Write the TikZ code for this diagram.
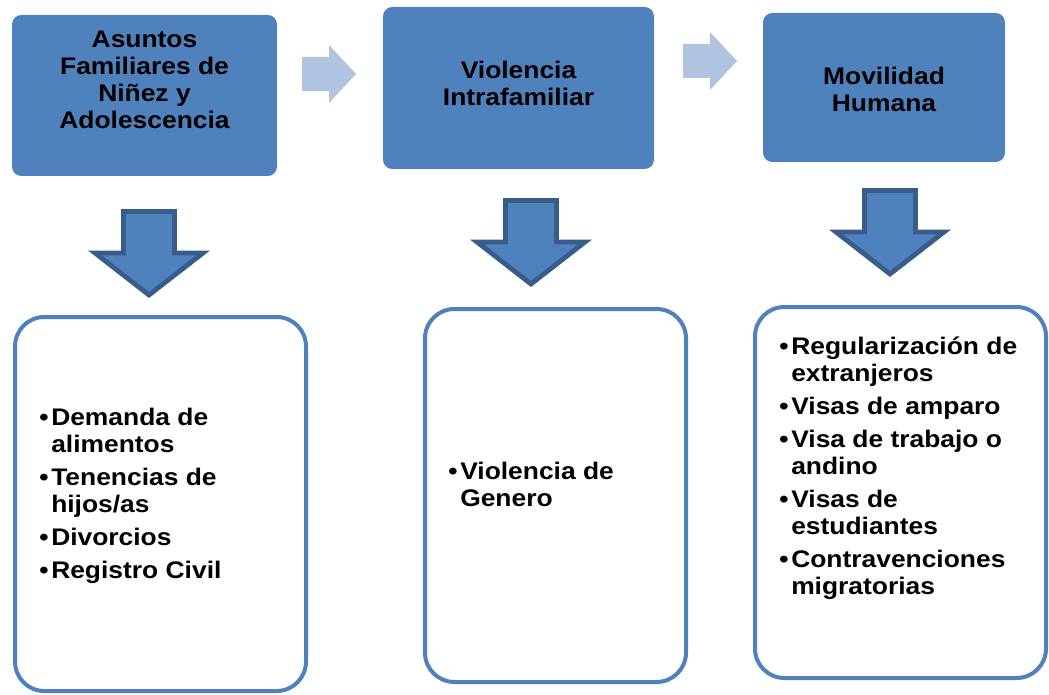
\documentclass[tikz,border=0pt]{standalone}
\usepackage{fontspec}
\setmainfont[FakeStretch=1.1]{Liberation Sans}
\definecolor{boxblue}{HTML}{4F81BD}
\definecolor{edgeblue}{HTML}{385D8A}
\definecolor{paleblue}{HTML}{B0C3DF}
\newcommand{\bigbold}{\bfseries\fontsize{18}{20.25}\selectfont}
\tikzset{
  topbox/.style={fill=boxblue, rounded corners=7pt},
  listbox/.style={draw=boxblue, line width=3pt, fill=white, rounded corners=22pt},
  hdr/.style={font=\bigbold, align=center, anchor=north, inner sep=0pt},
  items/.style={font=\bigbold, anchor=north west, inner sep=0pt},
  downarrow/.style={fill=boxblue, draw=edgeblue, line width=3.6pt},
  sidearrow/.style={fill=paleblue},
}
\begin{document}
\begin{tikzpicture}[x=0.75pt,y=-0.75pt]
  \useasboundingbox (0,0) rectangle (1049,695);
  % top boxes
  \fill[topbox] (12,15) rectangle (277,176);
  \fill[topbox] (383,7) rectangle (654,169);
  \fill[topbox] (763,13) rectangle (1005,162);
  \node[hdr] (fam) at (144.5,31) {Asuntos\\Familiares de\\Niñez y\\Adolescencia};
  \node[hdr] (vio) at (518.5,61) {Violencia\\Intrafamiliar};
  \node[hdr] (mov) at (884,67) {Movilidad\\Humana};
  % arrows between the boxes
  \foreach \lx/\my in {302/74, 683/61} {
    \fill[sidearrow] (\lx,\my-17) -- (\lx+27,\my-17) -- (\lx+27,\my-29) -- (\lx+54,\my)
      -- (\lx+27,\my+29) -- (\lx+27,\my+17) -- (\lx,\my+17) -- cycle;
  }
  % arrows down
  \foreach \cx/\ty in {149/209, 531/198, 890/188} {
    \draw[downarrow] (\cx-25.5,\ty+2.5) -- (\cx+25.5,\ty+2.5) -- (\cx+25.5,\ty+44)
      -- (\cx+54,\ty+44) -- (\cx,\ty+86) -- (\cx-54,\ty+44) -- (\cx-25.5,\ty+44) -- cycle;
  }
  % lists
  \draw[listbox] (15,317) rectangle (306,691);
  \draw[listbox] (425,309) rectangle (686,682);
  \draw[listbox] (755,307) rectangle (1046,678);
  \node[items] (famlist) at (39,406) {%
    \begin{tabular}{@{}p{9pt}@{}l@{}}
      \textbullet & Demanda de\\ & alimentos\\[4.5pt]
      \textbullet & Tenencias de\\ & hijos/as\\[4.5pt]
      \textbullet & Divorcios\\[4.5pt]
      \textbullet & Registro Civil
    \end{tabular}};
  \node[items] (violist) at (448,460) {%
    \begin{tabular}{@{}p{9pt}@{}l@{}}
      \textbullet & Violencia de\\ & Genero
    \end{tabular}};
  \node[items] (movlist) at (779,335) {%
    \begin{tabular}{@{}p{9pt}@{}l@{}}
      \textbullet & Regularización de\\ & extranjeros\\[4.5pt]
      \textbullet & Visas de amparo\\[4.5pt]
      \textbullet & Visa de trabajo o\\ & andino\\[4.5pt]
      \textbullet & Visas de\\ & estudiantes\\[4.5pt]
      \textbullet & Contravenciones\\ & migratorias
    \end{tabular}};
\end{tikzpicture}
\end{document}
